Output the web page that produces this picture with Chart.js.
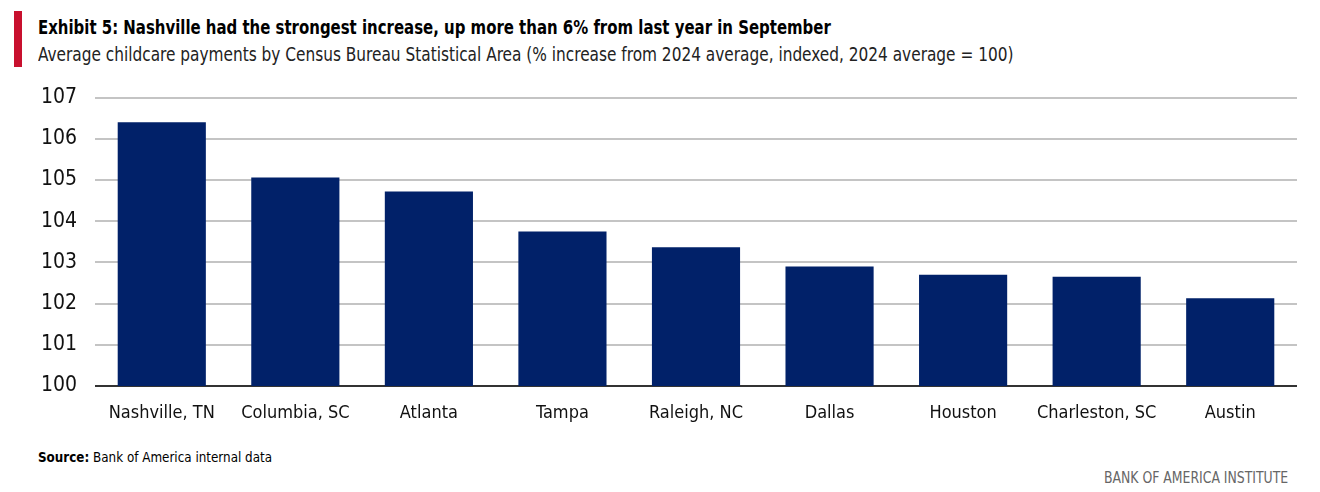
<!DOCTYPE html>
<html>
<head>
<meta charset="utf-8">
<script src="https://cdn.jsdelivr.net/npm/chart.js@4/dist/chart.umd.min.js"></script>
<style>
  html, body { margin: 0; padding: 0; background: #fff; }
  body { width: 1320px; height: 492px; position: relative; overflow: hidden;
         font-family: "Liberation Sans Narrow", "DejaVu Sans Condensed", "Liberation Sans", sans-serif; color: #000; }
  .redbar { position: absolute; left: 14px; top: 11px; width: 8px; height: 56px; background: #c8102e; }
  .title, .subtitle, .brand { white-space: nowrap; }
  .title { position: absolute; left: 38px; top: 16px; font-size: 19px; font-weight: bold;
           transform: scaleX(0.874); transform-origin: left top; }
  .subtitle { position: absolute; left: 38px; top: 43px; font-size: 19px; color: #222;
              transform: scaleX(0.898); transform-origin: left top; }
  .source { position: absolute; left: 38px; top: 449px; font-size: 14px;
            transform: scaleX(0.95); transform-origin: left top; white-space: nowrap; }
  .brand { position: absolute; right: 32px; top: 468px; font-size: 16px; color: #666;
           transform: scaleX(0.864); transform-origin: right top; }
  #wrap { position: absolute; left: 0; top: 67px; width: 1320px; height: 373px; }
</style>
</head>
<body>
<div class="redbar"></div>
<div class="title">Exhibit 5: Nashville had the strongest increase, up more than 6% from last year in September</div>
<div class="subtitle">Average childcare payments by Census Bureau Statistical Area (% increase from 2024 average, indexed, 2024 average = 100)</div>
<div id="wrap"><canvas id="chart"></canvas></div>
<div class="source"><b>Source:</b> Bank of America internal data</div>
<div class="brand">BANK OF AMERICA INSTITUTE</div>
<script>
const areas = ["Nashville, TN", "Columbia, SC", "Atlanta", "Tampa", "Raleigh, NC", "Dallas", "Houston", "Charleston, SC", "Austin"];
const indexValues = [106.4, 105.06, 104.72, 103.75, 103.37, 102.9, 102.7, 102.65, 102.13];
const yTicks = [100, 101, 102, 103, 104, 105, 106, 107];

const fontFamily = '"Liberation Sans Narrow", "DejaVu Sans Condensed", "Liberation Sans", sans-serif';

const ctx = document.getElementById("chart").getContext("2d");
new Chart(ctx, {
  type: "bar",
  data: {
    labels: areas,
    datasets: [{
      data: indexValues,
      backgroundColor: "#012169",
      borderWidth: 0,
      barPercentage: 0.66,
      categoryPercentage: 1
    }]
  },
  options: {
    responsive: true,
    maintainAspectRatio: false,
    animation: false,
    layout: { padding: { top: 4, right: 23, left: 0, bottom: 0 } },
    plugins: { legend: { display: false }, tooltip: { enabled: false } },
    scales: {
      x: {
        grid: { display: false },
        border: { display: false },
        ticks: { color: "#111", font: { family: fontFamily, size: 18 }, padding: 9, maxRotation: 0, autoSkip: false },
        afterFit: (scale) => { scale.height = 54; }
      },
      y: {
        min: 100,
        max: 107,
        afterBuildTicks: (scale) => { scale.ticks = yTicks.map(v => ({ value: v })); },
        grid: {
          drawTicks: false,
          color: (c) => c.tick && c.tick.value === 100 ? "#333" : "#c4c4c4",
          lineWidth: 2
        },
        border: { display: false },
        ticks: { color: "#111", font: { family: fontFamily, size: 21 }, padding: 18 },
        afterFit: (scale) => { scale.width = 95; }
      }
    }
  }
});
</script>
</body>
</html>
